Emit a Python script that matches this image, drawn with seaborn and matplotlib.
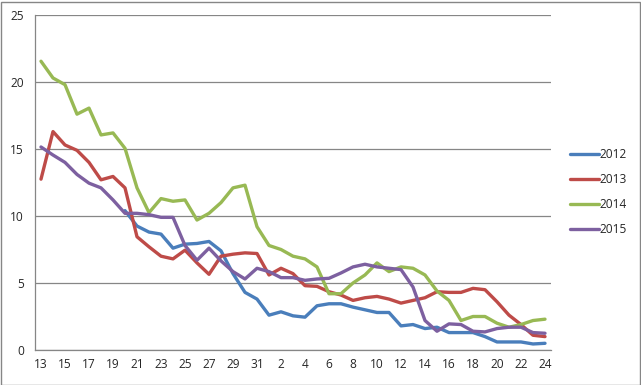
import numpy as np
import pandas as pd
import matplotlib
matplotlib.use("Agg")
import matplotlib.pyplot as plt
import seaborn as sns

# category labels: days 13..31 then 1..24
days = [str(d) for d in range(13, 32)] + [str(d) for d in range(1, 25)]

s2012 = [np.nan, np.nan, np.nan, np.nan, np.nan, np.nan, np.nan,
         10.4, 9.25, 8.8, 8.65, 7.6, 7.9, 7.95, 8.1, 7.4, 5.7, 4.3, 3.8,
         2.6, 2.85, 2.55, 2.45, 3.3, 3.45, 3.45, 3.2, 3.0, 2.8, 2.8, 1.8,
         1.9, 1.6, 1.7, 1.3, 1.3, 1.3, 1.0, 0.6, 0.6, 0.6, 0.45, 0.5]
s2013 = [12.75, 16.3, 15.3, 14.9, 14.0, 12.7, 12.95, 12.1, 8.45, 7.7, 7.0, 6.8,
         7.45, 6.5, 5.65, 7.0, 7.15, 7.25, 7.2, 5.6, 6.1, 5.7, 4.8, 4.75, 4.35,
         4.1, 3.7, 3.9, 4.0, 3.8, 3.5, 3.7, 3.9, 4.35, 4.3, 4.3, 4.6, 4.5, 3.6,
         2.6, 1.9, 1.1, 1.0]
s2014 = [21.55, 20.3, 19.8, 17.6, 18.05, 16.05, 16.2, 15.05, 12.1, 10.25, 11.3,
         11.1, 11.2, 9.7, 10.2, 11.0, 12.1, 12.3, 9.2, 7.8, 7.5, 7.0, 6.8, 6.2,
         4.2, 4.2, 5.0, 5.6, 6.5, 5.85, 6.2, 6.1, 5.6, 4.4, 3.7, 2.2, 2.5, 2.5,
         2.0, 1.7, 1.9, 2.2, 2.3]
s2015 = [15.15, 14.55, 14.0, 13.1, 12.45, 12.1, 11.2, 10.2, 10.2, 10.1, 9.9, 9.9,
         7.8, 6.7, 7.6, 6.65, 5.85, 5.3, 6.1, 5.85, 5.4, 5.4, 5.2, 5.3, 5.35,
         5.75, 6.2, 6.4, 6.2, 6.1, 6.0, 4.7, 2.2, 1.4, 1.95, 1.9, 1.4, 1.35, 1.6,
         1.7, 1.7, 1.3, 1.25]

years = ["2012", "2013", "2014", "2015"]
colors = ["#4A7EBB", "#BE4B48", "#98B954", "#7D60A0"]
yticks = [0, 5, 10, 15, 20, 25]

rows = []
for yr, vals in zip(years, [s2012, s2013, s2014, s2015]):
    for i, v in enumerate(vals):
        rows.append({"idx": i, "value": v, "year": yr})
df = pd.DataFrame(rows)

sns.set_style("white")
plt.rcParams["font.family"] = ["Open Sans", "DejaVu Sans"]

fig = plt.figure(figsize=(6.41, 3.85), dpi=100)
ax = fig.add_axes([35/641, 1 - 350/385, (551-35)/641, (350-15)/385])

sns.lineplot(data=df, x="idx", y="value", hue="year", palette=colors,
             linewidth=2.4, ax=ax, legend=True)

ax.set_xlim(-0.5, len(days) - 0.5)
ax.set_ylim(0, 25)
ax.set_yticks(yticks)
ax.set_yticklabels([str(t) for t in yticks], fontsize=8.6)
ax.set_xticks(range(0, len(days), 2))
ax.set_xticklabels(days[::2], fontsize=8.6)
ax.set_xticks(np.arange(-0.5, len(days), 1), minor=True)
ax.tick_params(axis="x", which="major", length=0, pad=6)
ax.tick_params(axis="x", which="minor", length=4, color="#868686", direction="out")
ax.tick_params(axis="y", length=4, color="#868686", direction="out", pad=4)
ax.yaxis.grid(True, color="#868686", linewidth=0.9)
ax.set_axisbelow(True)
ax.set_xlabel("")
ax.set_ylabel("")
for side in ["top", "right"]:
    ax.spines[side].set_visible(False)
for side in ["left", "bottom"]:
    ax.spines[side].set_color("#868686")
    ax.spines[side].set_linewidth(0.9)

leg = ax.legend(loc="center left", bbox_to_anchor=(570/641, 1 - 192/385),
                bbox_transform=fig.transFigure, frameon=False, fontsize=8.6,
                handlelength=2.4, handletextpad=0.1, labelspacing=1.0,
                borderaxespad=0, borderpad=0)
for line in leg.get_lines():
    line.set_linewidth(2.4)

# outer chart border
fig.patches.append(plt.Rectangle((0.5/641, 0.5/385), 639/641, 383/385,
                                 transform=fig.transFigure, fill=False,
                                 edgecolor="#868686", linewidth=1))

fig.savefig("out.png", dpi=100)
